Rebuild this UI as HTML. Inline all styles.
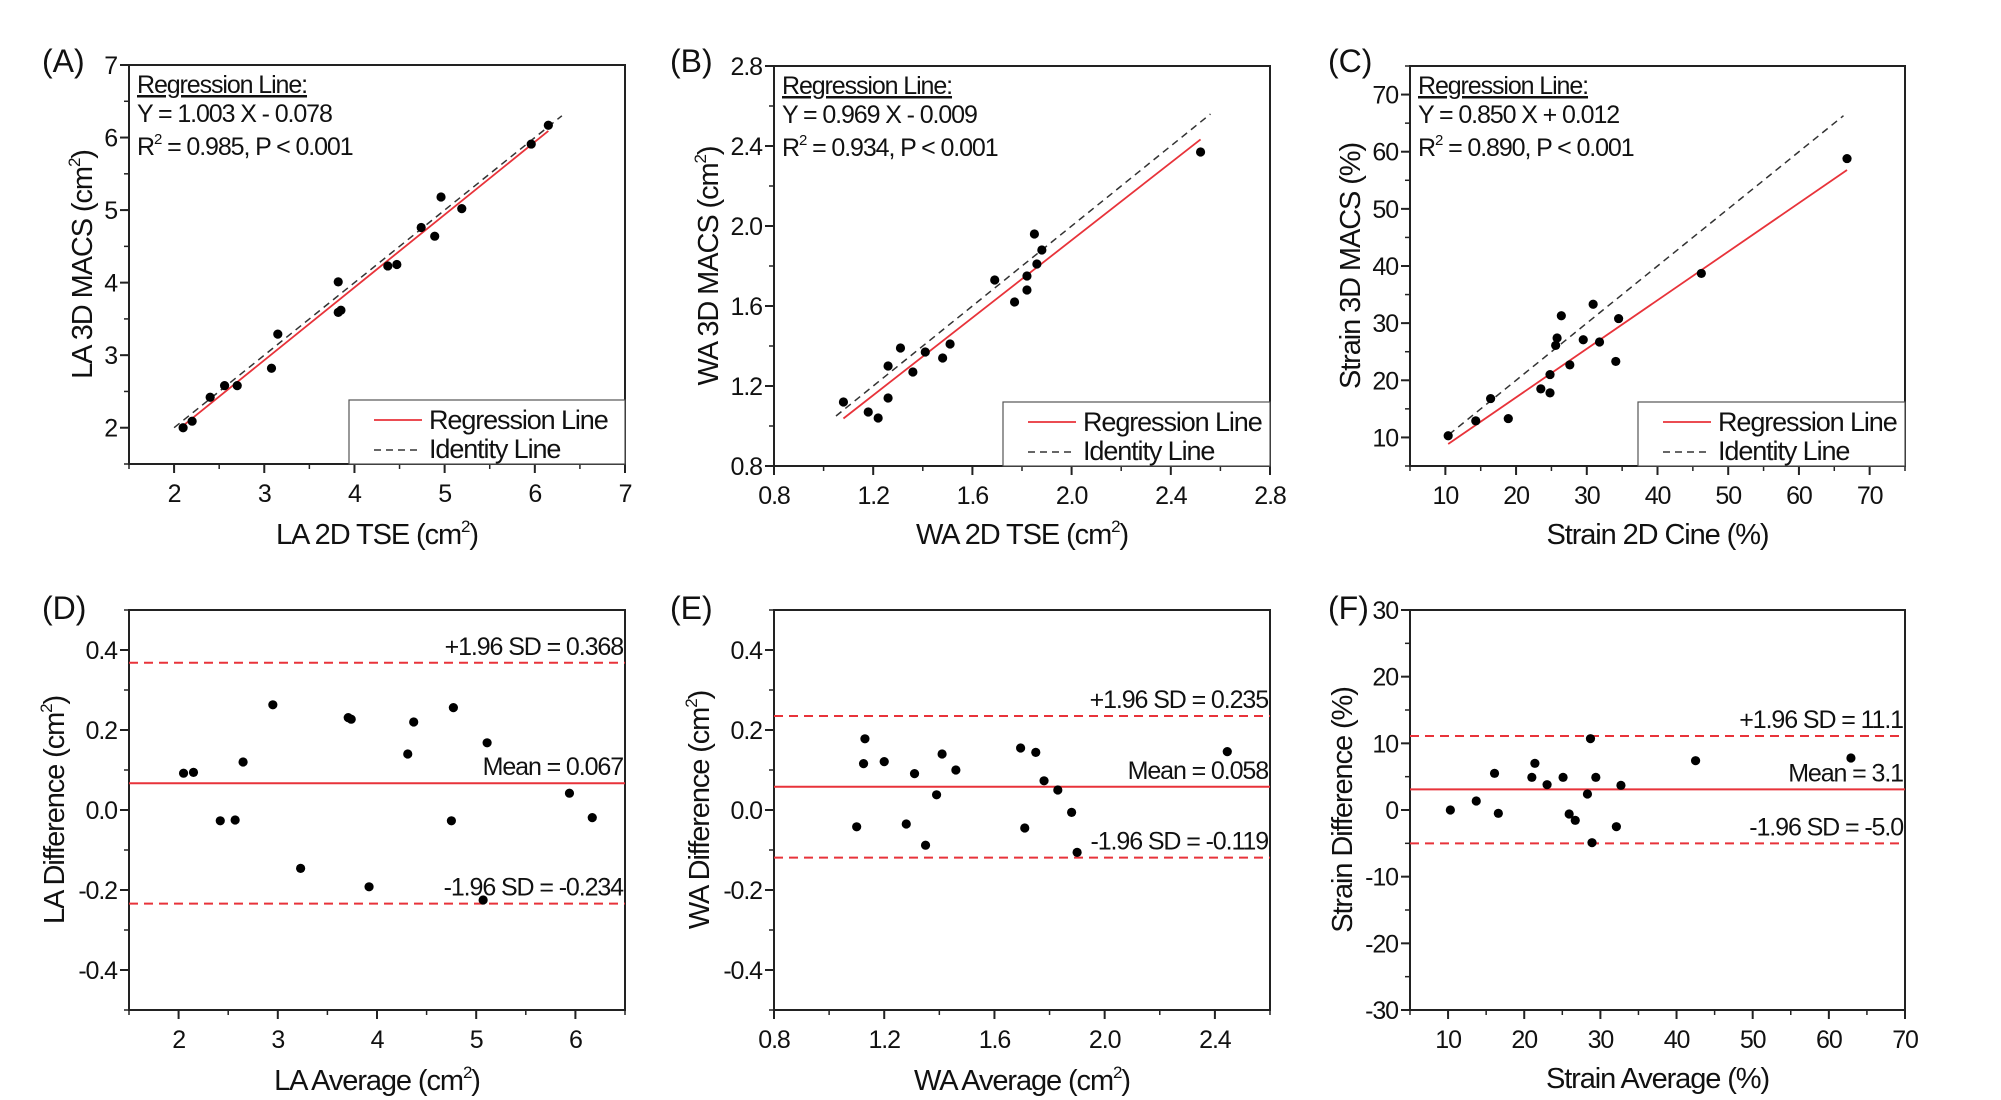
<!DOCTYPE html>
<html><head><meta charset="utf-8">
<style>
html,body{margin:0;padding:0;background:#fff;}
svg{display:block;font-family:"Liberation Sans Narrow","Liberation Sans",sans-serif;}
svg text{letter-spacing:-1.1px;}
svg text.plab{letter-spacing:0;}
</style></head>
<body>
<svg id="fig" width="2001" height="1100" viewBox="0 0 2001 1100" xmlns="http://www.w3.org/2000/svg"></svg>
<script>
// Panel A data
const aX = [2.10,2.20,2.40,2.56,2.70,3.08,3.15,3.82,3.82,3.85,4.37,4.47,4.74,4.89,4.96,5.19,5.96,6.15];
const aY = [2.00,2.09,2.42,2.58,2.58,2.82,3.29,4.01,3.59,3.62,4.23,4.25,4.76,4.64,5.18,5.02,5.91,6.17];
const aFit = [1.003,-0.078];
// Panel B data
const bX = [1.08,1.18,1.22,1.26,1.26,1.31,1.36,1.41,1.48,1.51,1.69,1.77,1.82,1.82,1.86,1.85,1.88,2.52];
const bY = [1.12,1.07,1.04,1.14,1.30,1.39,1.27,1.37,1.34,1.41,1.73,1.62,1.68,1.75,1.81,1.96,1.88,2.37];
const bFit = [0.969,-0.009];
// Panel C data
const cX = [10.4,14.3,16.4,18.9,23.5,24.8,24.8,25.6,25.8,26.4,27.6,29.5,30.9,31.8,34.1,34.5,46.2,66.8];
const cY = [10.3,12.9,16.8,13.3,18.5,17.8,21.0,26.1,27.4,31.3,22.7,27.1,33.3,26.7,23.3,30.8,38.7,58.8];
const cFit = [0.850,0.012];
// Panel D data
const dX = [2.05,2.15,2.42,2.57,2.65,2.95,3.23,3.71,3.74,3.92,4.31,4.37,4.75,4.77,5.07,5.11,5.94,6.17];
const dY = [0.092,0.094,-0.027,-0.025,0.12,0.263,-0.146,0.231,0.227,-0.192,0.140,0.220,-0.027,0.256,-0.225,0.168,0.042,-0.019];
const dLimits = [0.368,0.067,-0.234];
// Panel E data
const eX = [1.10,1.125,1.13,1.20,1.28,1.31,1.35,1.39,1.41,1.46,1.695,1.71,1.75,1.78,1.83,1.88,1.90,2.445];
const eY = [-0.042,0.116,0.178,0.121,-0.035,0.091,-0.088,0.038,0.140,0.100,0.155,-0.045,0.144,0.073,0.050,-0.006,-0.106,0.146];
const eLimits = [0.235,0.058,-0.119];
// Panel F data
const fX = [10.3,13.7,16.1,16.6,21.0,21.4,23.0,25.1,25.9,26.7,28.3,28.7,28.9,29.4,32.1,32.7,42.5,62.9];
const fY = [0,1.35,5.5,-0.5,4.9,7.0,3.8,4.9,-0.6,-1.55,2.4,10.7,-4.9,4.9,-2.5,3.7,7.4,7.8];
const fLimits = [11.1,3.1,-5.0];
// Tick labels
const aTicks = ["2","3","4","5","6","7"];
const bTicks = ["0.8","1.2","1.6","2.0","2.4","2.8"];
const cTicks = ["10","20","30","40","50","60","70"];
const dXTicks = ["2","3","4","5","6"];
const dYTicks = ["-0.4","-0.2","0.0","0.2","0.4"];
const eXTicks = ["0.8","1.2","1.6","2.0","2.4"];
const fYTicks = ["-30","-20","-10","0","10","20","30"];

const NS="http://www.w3.org/2000/svg";
const svg=document.getElementById('fig');
const RED="#e8333a";
function mk(tag,attrs,parent){const e=document.createElementNS(NS,tag);for(const k in attrs)e.setAttribute(k,attrs[k]);(parent||svg).appendChild(e);return e;}
function txt(s,x,y,size,anchor,parent){const t=mk('text',{x:x,y:y,'font-size':size,'text-anchor':anchor||'start',fill:'#111'},parent);t.textContent=s;return t;}

function panel(p){
  const g=mk('g',{});
  
  
  const sx=v=>p.L+(v-p.x0)/(p.x1-p.x0)*(p.R-p.L);
  const sy=v=>p.B-(v-p.y0)/(p.y1-p.y0)*(p.B-p.T);
  const pl=txt('('+p.id.toUpperCase()+')',p.labX,p.labY,32,'start',g);
  pl.setAttribute('class','plab');
  
  
  const fr=mk('rect',{x:p.L,y:p.T,width:p.R-p.L,height:p.B-p.T,fill:'none',stroke:'#222','stroke-width':2},g);
  
  
  const xt=mk('g',{},g);
  
  
  p.xTicks.forEach((s,i)=>{
    const v=parseFloat(s);const x=sx(v);
    mk('line',{x1:x,y1:p.B,x2:x,y2:p.B+9,stroke:'#222','stroke-width':2},xt);
    const t=txt(s,x,p.B+38,25,'middle',xt);
    
    
  });
  for(let v=p.x0;v<=p.x1+1e-9;v+=p.xMinor){mk('line',{x1:sx(v),y1:p.B,x2:sx(v),y2:p.B+5,stroke:'#222','stroke-width':1.5},xt);}
  const yt=mk('g',{},g);
  
  
  p.yTicks.forEach(s=>{
    const v=parseFloat(s);const y=sy(v);
    mk('line',{x1:p.L-9,y1:y,x2:p.L,y2:y,stroke:'#222','stroke-width':2},yt);
    const t=txt(s,p.L-12,y+9,25,'end',yt);
    
    
  });
  for(let v=p.y0;v<=p.y1+1e-9;v+=p.yMinor){mk('line',{x1:p.L-5,y1:sy(v),x2:p.L,y2:sy(v),stroke:'#222','stroke-width':1.5},yt);}
  const xtT=mk('text',{x:(p.L+p.R)/2,y:p.xTitleY,'font-size':29,'text-anchor':'middle',fill:'#111'},g);
  xtT.innerHTML=p.xTitle;
  
  
  const ytT=mk('text',{x:0,y:0,'font-size':29,'text-anchor':'middle',fill:'#111',transform:'translate('+p.yTitleX+','+((p.T+p.B)/2)+') rotate(-90)'},g);
  ytT.innerHTML=p.yTitle;
  
  
  if(p.fit){
    const il=mk('line',{x1:sx(p.idR[0]),y1:sy(p.idR[0]),x2:sx(p.idR[1]),y2:sy(p.idR[1]),stroke:'#333','stroke-width':1.5,'stroke-dasharray':'7,5'},g);
    
    
    const xs=Math.min(...p.xs),xe=Math.max(...p.xs);
    const rl=mk('line',{x1:sx(xs),y1:sy(p.fit[0]*xs+p.fit[1]),x2:sx(xe),y2:sy(p.fit[0]*xe+p.fit[1]),stroke:RED,'stroke-width':1.8},g);
    
    
    const an=mk('g',{},g);
    
    
    const ax=p.L+8;
    const t1=txt('Regression Line:',ax,p.T+28,25,'start',an);t1.setAttribute('text-decoration','underline');
    txt('Y = '+p.fit[0].toFixed(3)+' X '+(p.fit[1]<0?'- ':'+ ')+Math.abs(p.fit[1]).toFixed(3),ax,p.T+57,25,'start',an);
    const t3=mk('text',{x:ax,y:p.T+90,'font-size':25,fill:'#111'},an);
    t3.innerHTML='R<tspan font-size="15" dy="-11">2</tspan><tspan dy="11"> = '+p.r2+', P &lt; 0.001</tspan>';
    const lg=mk('g',{},g);
    
    
    mk('rect',{x:p.legX,y:p.B-64,width:p.R-p.legX,height:64,fill:'#fff',stroke:'#555','stroke-width':1.2},lg);
    const e1=mk('line',{x1:p.legX+25,y1:p.B-44,x2:p.legX+73,y2:p.B-44,stroke:RED,'stroke-width':1.8},lg);
    
    
    txt('Regression Line',p.legX+80,p.B-35,27,'start',lg);
    const e2=mk('line',{x1:p.legX+25,y1:p.B-14,x2:p.legX+73,y2:p.B-14,stroke:'#333','stroke-width':1.5,'stroke-dasharray':'7,5'},lg);
    
    
    txt('Identity Line',p.legX+80,p.B-6,27,'start',lg);
  }
  if(p.limits){
    const names=['upper-limit-line','mean-line','lower-limit-line'];
    const labels=['+1.96 SD = ','Mean = ','-1.96 SD = '];
    p.limits.forEach((v,i)=>{
      const y=sy(v);
      const ln=mk('line',{x1:p.L,y1:y,x2:p.R,y2:y,stroke:RED,'stroke-width':2,'stroke-dasharray':i===1?'none':'9,6'},g);
      
      
      const lt=txt(labels[i]+v.toFixed(p.dec),p.R-2,y-8,25,'end',g);
      
      
    });
  }
  const pts=mk('g',{},g);
  
  
  p.xs.forEach((v,i)=>{
    const c=mk('circle',{cx:sx(v),cy:sy(p.ys[i]),r:4.6,fill:'#000'},pts);
    
    
  });
}
const CM='(cm<tspan font-size="17" dy="-12">2</tspan><tspan dy="12">)</tspan>';
panel({id:'a',L:129,R:625,T:65,B:464,x0:1.5,x1:7,y0:1.5,y1:7,xMinor:0.5,yMinor:0.5,xTicks:aTicks,yTicks:aTicks,xs:aX,ys:aY,fit:aFit,r2:'0.985',idR:[2,6.3],legX:349,labX:42,labY:72,xTitle:'LA 2D TSE '+CM,yTitle:'LA 3D MACS '+CM,xTitleY:544,yTitleX:92});
panel({id:'b',L:774,R:1270,T:66,B:466,x0:0.8,x1:2.8,y0:0.8,y1:2.8,xMinor:0.2,yMinor:0.2,xTicks:bTicks,yTicks:bTicks,xs:bX,ys:bY,fit:bFit,r2:'0.934',idR:[1.05,2.56],legX:1003,labX:670,labY:72,xTitle:'WA 2D TSE '+CM,yTitle:'WA 3D MACS '+CM,xTitleY:544,yTitleX:718});
panel({id:'c',L:1410,R:1905,T:66,B:466,x0:5,x1:75,y0:5,y1:75,xMinor:5,yMinor:5,xTicks:cTicks,yTicks:cTicks,xs:cX,ys:cY,fit:cFit,r2:'0.890',idR:[10.5,66.3],legX:1638,labX:1328,labY:72,xTitle:'Strain 2D Cine (%)',yTitle:'Strain 3D MACS (%)',xTitleY:544,yTitleX:1360});
panel({id:'d',L:129,R:625,T:610,B:1010,x0:1.5,x1:6.5,y0:-0.5,y1:0.5,xMinor:0.5,yMinor:0.1,xTicks:dXTicks,yTicks:dYTicks,xs:dX,ys:dY,limits:dLimits,dec:3,labX:42,labY:619,xTitle:'LA Average '+CM,yTitle:'LA Difference '+CM,xTitleY:1090,yTitleX:64});
panel({id:'e',L:774,R:1270,T:610,B:1010,x0:0.8,x1:2.6,y0:-0.5,y1:0.5,xMinor:0.2,yMinor:0.1,xTicks:eXTicks,yTicks:dYTicks,xs:eX,ys:eY,limits:eLimits,dec:3,labX:670,labY:619,xTitle:'WA Average '+CM,yTitle:'WA Difference '+CM,xTitleY:1090,yTitleX:709});
panel({id:'f',L:1410,R:1905,T:610,B:1010,x0:5,x1:70,y0:-30,y1:30,xMinor:5,yMinor:5,xTicks:cTicks,yTicks:fYTicks,xs:fX,ys:fY,limits:fLimits,dec:1,labX:1328,labY:619,xTitle:'Strain Average (%)',yTitle:'Strain Difference (%)',xTitleY:1088,yTitleX:1352});
</script>
</body></html>
